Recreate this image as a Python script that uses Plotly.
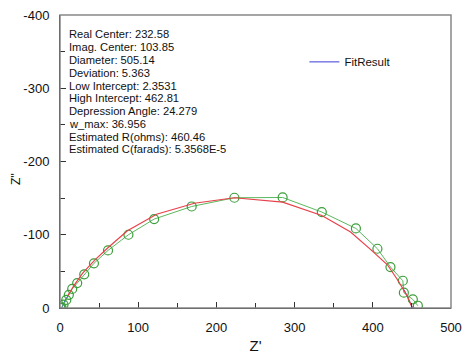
import plotly.graph_objects as go

# Measured data (green circles)
meas_x = [0.5, 1.0, 2.0, 4.5, 8.0, 11.3, 15.6, 22.0, 31.0, 43.4, 61.4, 87.5, 120.4, 168.4,
          223.0, 284.7, 334.8, 378.4, 405.9, 422.6, 438.4, 439.7, 451.2, 457.6]
meas_y = [0.0, -0.3, -0.8, -4.5, -11.0, -18.0, -26.0, -34.0, -46.0, -61.0, -78.6, -100.0, -121.4, -138.6,
          -150.5, -150.9, -131.0, -108.6, -80.9, -55.9, -37.2, -20.9, -11.7, -3.1]

# Fit curve (red)
fit_x = [10.0, 18.0, 29.0, 45.0, 62.0, 86.2, 123.5, 171.8, 223.0, 284.7, 334.8, 371.6,
         397.0, 418.7, 431.6, 444.4, 450.0]
fit_y = [-17.0, -31.0, -47.7, -66.0, -83.0, -105.5, -128.0, -143.0, -150.5, -144.6, -126.3, -103.7,
         -80.0, -59.0, -38.6, -15.8, -1.4]

# FitResult (blue), visible near the ends
blue_x = [2.35, 4.0, 8.0, 12.0, None, 396.0, 399.0, None, 440.0, 445.0, 449.0, 451.0]
blue_y = [0.0, -5.0, -13.0, -20.0, None, -81.0, -78.0, None, -25.0, -14.0, -5.0, 0.0]

info_lines = ["Real Center: 232.58", "Imag. Center: 103.85", "Diameter: 505.14",
              "Deviation: 5.363", "Low Intercept: 2.3531", "High Intercept: 462.81",
              "Depression Angle: 24.279", "w_max: 36.956", "Estimated R(ohms): 460.46",
              "Estimated C(farads): 5.3568E-5"]

x_ticks = [0, 100, 200, 300, 400, 500]
y_ticks = [0, -100, -200, -300, -400]

FONT = "Liberation Sans, Arial, sans-serif"

fig = go.Figure()
fig.add_trace(go.Scatter(x=blue_x, y=blue_y, mode="lines", name="FitResult",
                         line=dict(color="#3b3bd6", width=1), connectgaps=False, showlegend=True))
fig.add_trace(go.Scatter(x=meas_x, y=meas_y, mode="lines+markers", showlegend=False,
                         line=dict(color="#5cb85c", width=1),
                         marker=dict(symbol="circle-open", size=9, color="#3a9e3a",
                                     line=dict(width=1.2, color="#3a9e3a"))))
fig.add_trace(go.Scatter(x=fit_x, y=fit_y, mode="lines", showlegend=False,
                         line=dict(color="#e8404a", width=1.2)))

# page offset of ~8px (body margin) is compensated in the figure size
OFF = 8
W, HT = 474 - OFF, 355 - OFF
L, R, T, B = 60 - OFF, 451 - OFF, 15 - OFF, 308 - OFF
H = B - T
PW = R - L
for i, s in enumerate(info_lines):
    yc = 34.3 - OFF + 12.8 * i
    fig.add_annotation(x=9 / PW, y=(B - yc) / H, xref="paper", yref="paper",
                       text=s, showarrow=False, xanchor="left", yanchor="middle",
                       xshift=-2,
                       font=dict(family=FONT, size=11.2, color="#111"))

# y-axis title placed by hand (left edge of the page area)
fig.add_annotation(x=(16 - OFF - L) / PW, y=(B - (179 - OFF)) / H, xref="paper", yref="paper",
                   text="Z''", textangle=-90, showarrow=False, xanchor="center", yanchor="middle",
                   font=dict(family=FONT, size=12, color="#111"))

fig.add_shape(type="rect", xref="paper", yref="paper", x0=0, y0=0, x1=1, y1=1,
              line=dict(color="#888888", width=1.5), layer="above")

axis_common = dict(showgrid=False, zeroline=False, showline=True, linecolor="#222",
                   linewidth=1, ticks="inside", ticklen=6, tickcolor="#333",
                   automargin=False, ticklabelstandoff=7, ticklabeloverflow="allow",
                   tickfont=dict(family=FONT, size=13, color="#111"),
                   minor=dict(ticks="inside", ticklen=5, tickcolor="#333", dtick=50))

fig.update_layout(
    width=W, height=HT,
    margin=dict(l=L, r=W - R, t=T, b=HT - B),
    plot_bgcolor="white", paper_bgcolor="white",
    xaxis=dict(range=[0, 500], tickvals=x_ticks, ticktext=[str(v) for v in x_ticks],
               title=dict(text="Z'", font=dict(family=FONT, size=15, color="#111"), standoff=6),
               **axis_common),
    yaxis=dict(range=[0, -400], tickvals=y_ticks, ticktext=[str(v) for v in y_ticks],
               **axis_common),
    legend=dict(x=0.625, y=0.84, xanchor="left", yanchor="middle", bgcolor="rgba(0,0,0,0)",
                font=dict(family=FONT, size=11.5, color="#111")),
    showlegend=True,
)

fig.write_html("out.html")
